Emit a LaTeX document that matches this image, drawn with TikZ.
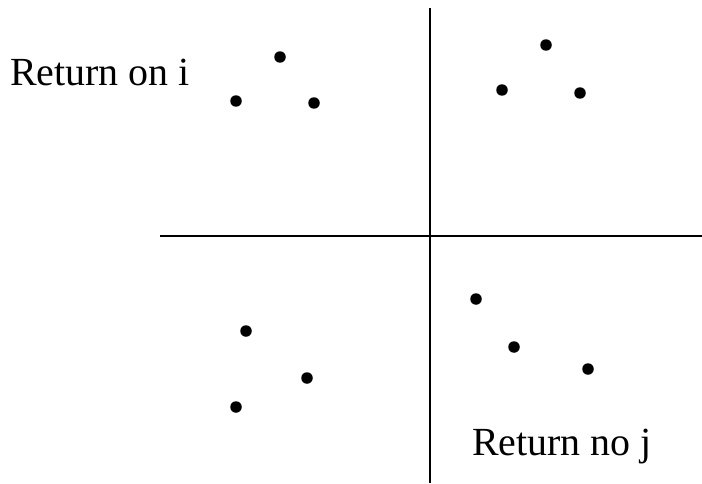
\documentclass[tikz,border=0pt]{standalone}
\usepackage{fontspec}
\setmainfont{Liberation Serif}
\usetikzlibrary{positioning}
\tikzset{
  pt/.style={circle, fill=black, inner sep=0pt, minimum size=0.23cm},
  axis/.style={line width=1.1pt, color=black},
  lbl/.style={font=\fontsize{22.7}{27}\selectfont, inner sep=0pt}
}
\begin{document}
\begin{tikzpicture}[x=0.02cm, y=-0.02cm]
\useasboundingbox (0,0) rectangle (702,483);

%% Axes
\coordinate (vtop) at (430,8);
\coordinate (vbot) at (430,483);
\coordinate (hl)   at (160,236);
\coordinate (hr)   at (702,236);
\draw[axis] (vtop)--(vbot);
\draw[axis] (hl)--(hr);

%% Labels
\node[lbl, anchor=west] (reti) at (10,72) {Return on i};
\node[lbl, anchor=west] (retj) at (472,447) {Return no j};

%% Upper left
\node[pt] (a1) at (280,57) {};
\node[pt] (a2) at (236,101) {};
\node[pt] (a3) at (314,103) {};
%% Upper right
\node[pt] (b1) at (546,45) {};
\node[pt] (b2) at (502,90) {};
\node[pt] (b3) at (580,93) {};
%% Lower left
\node[pt] (c1) at (246,331) {};
\node[pt] (c2) at (307,378) {};
\node[pt] (c3) at (236,407) {};
%% Lower right
\node[pt] (d1) at (476,299) {};
\node[pt] (d2) at (514,347) {};
\node[pt] (d3) at (588,369) {};

\end{tikzpicture}
\end{document}
